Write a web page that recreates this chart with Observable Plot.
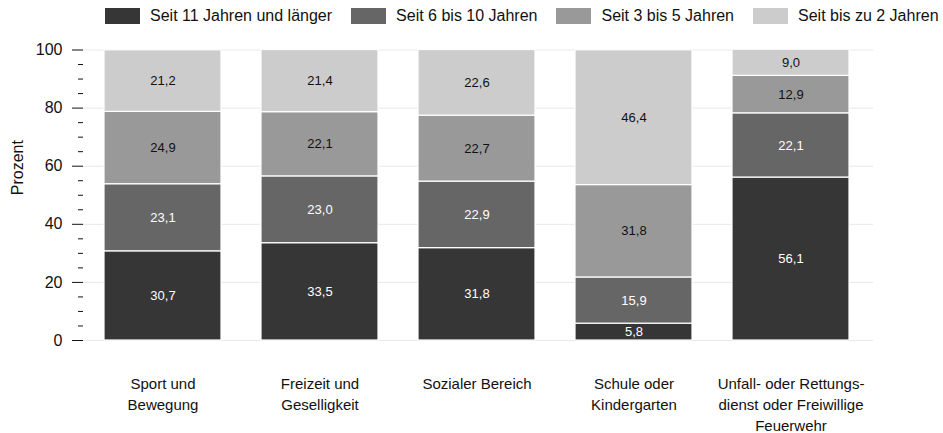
<!DOCTYPE html>
<html>
<head>
<meta charset="utf-8">
<script src="https://cdn.jsdelivr.net/npm/d3@7"></script>
<script src="https://cdn.jsdelivr.net/npm/@observablehq/plot@0.6"></script>
<style>
  body { margin: 0; background: #fff; font-family: "Liberation Sans", Arial, sans-serif; }
  #legend { height: 35px; width: 943px; display: flex; align-items: flex-start; padding-left: 105px; box-sizing: border-box; }
  .item { display: flex; align-items: center; height: 16px; margin-top: 8px; margin-right: 19px; font-size: 16px; color: #111; white-space: nowrap; }
  .sw { width: 35px; height: 16px; margin-right: 10px; flex: none; }
  svg { display: block; }
</style>
</head>
<body>
<div id="legend"></div>
<div id="chart"></div>
<script>
const categories = [
  "Sport und\nBewegung",
  "Freizeit und\nGeselligkeit",
  "Sozialer Bereich",
  "Schule oder\nKindergarten",
  "Unfall- oder Rettungs-\ndienst oder Freiwillige\nFeuerwehr"
];
const series = ["Seit 11 Jahren und länger", "Seit 6 bis 10 Jahren", "Seit 3 bis 5 Jahren", "Seit bis zu 2 Jahren"];
const colors = ["#363636", "#666666", "#999999", "#cccccc"];
const labelColors = ["#ffffff", "#ffffff", "#111111", "#111111"];
const values11 = [30.7, 33.5, 31.8, 5.8, 56.1];
const values6to10 = [23.1, 23.0, 22.9, 15.9, 22.1];
const values3to5 = [24.9, 22.1, 22.7, 31.8, 12.9];
const values2 = [21.2, 21.4, 22.6, 46.4, 9.0];
const yTicks = [0, 20, 40, 60, 80, 100];
const yMinorTicks = [5, 10, 15, 25, 30, 35, 45, 50, 55, 65, 70, 75, 85, 90, 95];

const seriesValues = [values11, values6to10, values3to5, values2];
const data = [];
series.forEach((s, si) => categories.forEach((c, ci) => data.push({cat: c, series: s, si, value: seriesValues[si][ci]})));

const legend = document.getElementById("legend");
series.forEach((s, i) => {
  const d = document.createElement("div");
  d.className = "item";
  d.innerHTML = `<span class="sw" style="background:${colors[i]}"></span><span>${s}</span>`;
  legend.appendChild(d);
});

const fmt = v => v.toFixed(1).replace(".", ",");

const chart = Plot.plot({
  width: 943,
  height: 398,
  marginLeft: 83,
  marginRight: 70,
  marginTop: 14.5,
  marginBottom: 93,
  style: {fontFamily: "'Liberation Sans', Arial, sans-serif", fontSize: "16px", color: "#111", overflow: "visible"},
  x: {domain: categories, range: [102, 852], paddingInner: 0.253, paddingOuter: 0},
  y: {domain: [0, 100]},
  color: {domain: series, range: colors},
  marks: [
    Plot.gridY(yTicks, {stroke: "#e8e8e8", strokeOpacity: 1, strokeWidth: 1}),
    Plot.barY(data, Plot.stackY({x: "cat", y: "value", z: "si", fill: "series", stroke: "white", strokeWidth: 1.2, order: null})),
    Plot.text(data, Plot.stackY({x: "cat", y: "value", z: "si", text: d => fmt(d.value), fill: d => labelColors[d.si], fontSize: 13, order: null})),
    Plot.axisY(yTicks, {anchor: "left", tickSize: 11, tickPadding: 10, fontSize: 16, stroke: "#111", tickFormat: d => d, label: null}),
    Plot.axisY(yMinorTicks, {anchor: "left", tickSize: 5, tickFormat: () => "", stroke: "#111", label: null}),
    Plot.axisX({anchor: "bottom", tickSize: 0, tickPadding: 34, fontSize: 15, lineHeight: 1.38, label: null}),
    Plot.text(["Prozent"], {frameAnchor: "left", dx: -66, rotate: -90, fontSize: 16})
  ]
});
document.getElementById("chart").appendChild(chart);
</script>
</body>
</html>
